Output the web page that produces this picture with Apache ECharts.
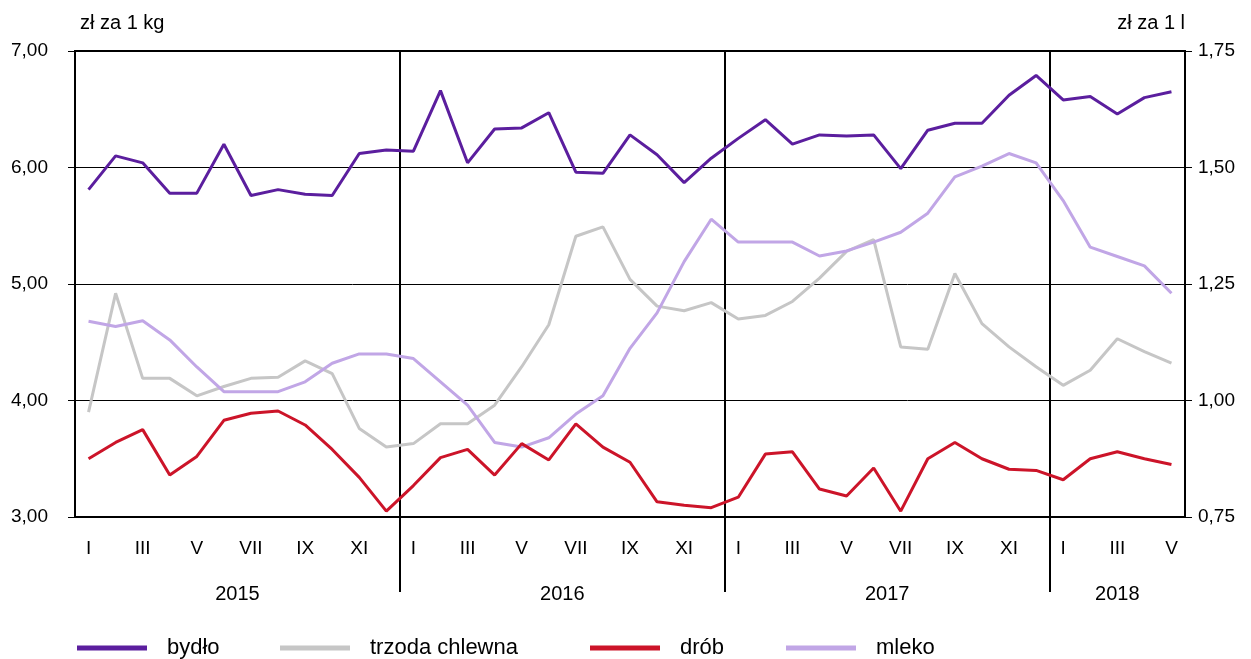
<!DOCTYPE html>
<html>
<head>
<meta charset="utf-8">
<script src="https://cdn.jsdelivr.net/npm/echarts@6/dist/echarts.min.js"></script>
<style>
  html, body { margin: 0; padding: 0; background: #fff; }
  #chart { width: 1251px; height: 659px; }
</style>
</head>
<body>
<div id="chart"></div>
<script>
// miesiące I.2015 - V.2018
const months = [
  'I','II','III','IV','V','VI','VII','VIII','IX','X','XI','XII',
  'I','II','III','IV','V','VI','VII','VIII','IX','X','XI','XII',
  'I','II','III','IV','V','VI','VII','VIII','IX','X','XI','XII',
  'I','II','III','IV','V'
];
const years = ['2015', '2016', '2017', '2018'];
const monthsPerYear = [12, 12, 12, 5];

const leftTicks = [3, 4, 5, 6, 7];
const rightTicks = [0.75, 1, 1.25, 1.5, 1.75];

const seriesNames = ['bydło', 'trzoda chlewna', 'drób', 'mleko'];

// zł za 1 kg
const bydlo = [
  5.81, 6.10, 6.04, 5.78, 5.78, 6.20, 5.76, 5.81, 5.77, 5.76, 6.12, 6.15,
  6.14, 6.66, 6.04, 6.33, 6.34, 6.47, 5.96, 5.95, 6.28, 6.11, 5.87, 6.08,
  6.25, 6.41, 6.20, 6.28, 6.27, 6.28, 5.99, 6.32, 6.38, 6.38, 6.62, 6.79,
  6.58, 6.61, 6.46, 6.60, 6.65
];
const trzoda = [
  3.90, 4.92, 4.19, 4.19, 4.04, 4.12, 4.19, 4.20, 4.34, 4.23, 3.76, 3.60,
  3.63, 3.80, 3.80, 3.96, 4.29, 4.65, 5.41, 5.49, 5.04, 4.81, 4.77, 4.84,
  4.70, 4.73, 4.85, 5.05, 5.28, 5.38, 4.46, 4.44, 5.09, 4.66, 4.46, 4.29,
  4.13, 4.26, 4.53, 4.42, 4.32
];
const drob = [
  3.50, 3.64, 3.75, 3.36, 3.52, 3.83, 3.89, 3.91, 3.79, 3.58, 3.34, 3.05,
  3.27, 3.51, 3.58, 3.36, 3.63, 3.49, 3.80, 3.60, 3.47, 3.13, 3.10, 3.08,
  3.17, 3.54, 3.56, 3.24, 3.18, 3.42, 3.05, 3.50, 3.64, 3.50, 3.41, 3.40,
  3.32, 3.50, 3.56, 3.50, 3.45
];
// zł za 1 l
const mleko = [
  1.170, 1.159, 1.171, 1.130, 1.072, 1.019, 1.019, 1.019, 1.040, 1.080, 1.100, 1.100,
  1.090, 1.040, 0.990, 0.910, 0.900, 0.920, 0.971, 1.010, 1.112, 1.188, 1.298, 1.389,
  1.340, 1.340, 1.340, 1.310, 1.321, 1.340, 1.361, 1.402, 1.480, 1.503, 1.530, 1.510,
  1.429, 1.329, 1.309, 1.289, 1.230
];

// granice lat (indeksy kategorii) i środki podpisów lat
const yearStarts = [];
const yearCenters = [];
let acc = 0;
monthsPerYear.forEach((n) => {
  yearStarts.push(acc);
  yearCenters.push(acc + n / 2);
  acc += n;
});

const font = 'Liberation Sans';
const legendLeft = [77, 280, 590, 786];

const chart = echarts.init(document.getElementById('chart'));

const option = {
  animation: false,
  textStyle: { fontFamily: font },
  grid: { left: 75, right: 66, top: 51, bottom: 142, show: true, borderColor: '#000', borderWidth: 2 },
  // osobna legenda dla każdej serii, żeby zachować odstępy z oryginału
  legend: seriesNames.map((name, i) => ({
    left: legendLeft[i],
    top: 637,
    padding: 0,
    icon: 'rect',
    itemWidth: 70,
    itemHeight: 5,
    textStyle: { fontSize: 22, color: '#000', padding: [0, 0, 0, 15] },
    data: [name]
  })),
  xAxis: [
    {
      type: 'category',
      data: months,
      boundaryGap: true,
      axisLine: { lineStyle: { color: '#000', width: 2 } },
      axisTick: { show: false },
      splitLine: {
        show: true,
        interval: (i) => yearStarts.indexOf(i) > 0,
        lineStyle: { color: '#000', width: 2 }
      },
      axisLabel: {
        interval: (i) => i % 2 === 0,
        color: '#000',
        fontSize: 19,
        margin: 22
      }
    },
    {
      // oś pomocnicza: podpisy lat i kreski granic lat pod osią
      type: 'value',
      position: 'bottom',
      min: 0,
      max: months.length,
      axisLine: { show: false },
      axisTick: {
        show: true,
        inside: false,
        length: 75,
        customValues: yearStarts.slice(1),
        lineStyle: { color: '#000', width: 2 }
      },
      splitLine: { show: false },
      axisLabel: {
        color: '#000',
        fontSize: 20,
        margin: 67,
        customValues: yearCenters,
        formatter: (v) => {
          const k = yearCenters.indexOf(v);
          return k >= 0 ? years[k] : '';
        }
      }
    }
  ],
  yAxis: [
    {
      type: 'value',
      min: leftTicks[0],
      max: leftTicks[leftTicks.length - 1],
      interval: 1,
      name: 'zł za 1 kg',
      nameLocation: 'end',
      nameGap: 18,
      nameTextStyle: { color: '#000', fontSize: 20, align: 'left', padding: [0, 0, 0, 5] },
      axisLine: { show: true, lineStyle: { color: '#000', width: 2 } },
      axisTick: { show: true, length: 7, lineStyle: { color: '#000' } },
      splitLine: { show: true, lineStyle: { color: '#000', width: 1 } },
      axisLabel: {
        color: '#000',
        fontSize: 19,
        margin: 27,
        formatter: (v) => v.toFixed(2).replace('.', ',')
      }
    },
    {
      type: 'value',
      min: rightTicks[0],
      max: rightTicks[rightTicks.length - 1],
      interval: 0.25,
      name: 'zł za 1 l',
      nameLocation: 'end',
      nameGap: 18,
      nameTextStyle: { color: '#000', fontSize: 20, align: 'right' },
      axisLine: { show: true, lineStyle: { color: '#000', width: 2 } },
      axisTick: { show: true, length: 7, lineStyle: { color: '#000' } },
      splitLine: { show: false },
      axisLabel: {
        color: '#000',
        fontSize: 19,
        margin: 13,
        formatter: (v) => v.toFixed(2).replace('.', ',')
      }
    }
  ],
  series: [
    {
      name: seriesNames[0], type: 'line', data: bydlo, yAxisIndex: 0,
      showSymbol: false, symbol: 'none',
      lineStyle: { color: '#5B1E9E', width: 3 }, itemStyle: { color: '#5B1E9E' }, z: 5
    },
    {
      name: seriesNames[1], type: 'line', data: trzoda, yAxisIndex: 0,
      showSymbol: false, symbol: 'none',
      lineStyle: { color: '#C6C6C6', width: 3 }, itemStyle: { color: '#C6C6C6' }, z: 2
    },
    {
      name: seriesNames[2], type: 'line', data: drob, yAxisIndex: 0,
      showSymbol: false, symbol: 'none',
      lineStyle: { color: '#CC1429', width: 3 }, itemStyle: { color: '#CC1429' }, z: 4
    },
    {
      name: seriesNames[3], type: 'line', data: mleko, yAxisIndex: 1,
      showSymbol: false, symbol: 'none',
      lineStyle: { color: '#C1A6E6', width: 3 }, itemStyle: { color: '#C1A6E6' }, z: 3
    }
  ]
};

chart.setOption(option);
</script>
</body>
</html>
